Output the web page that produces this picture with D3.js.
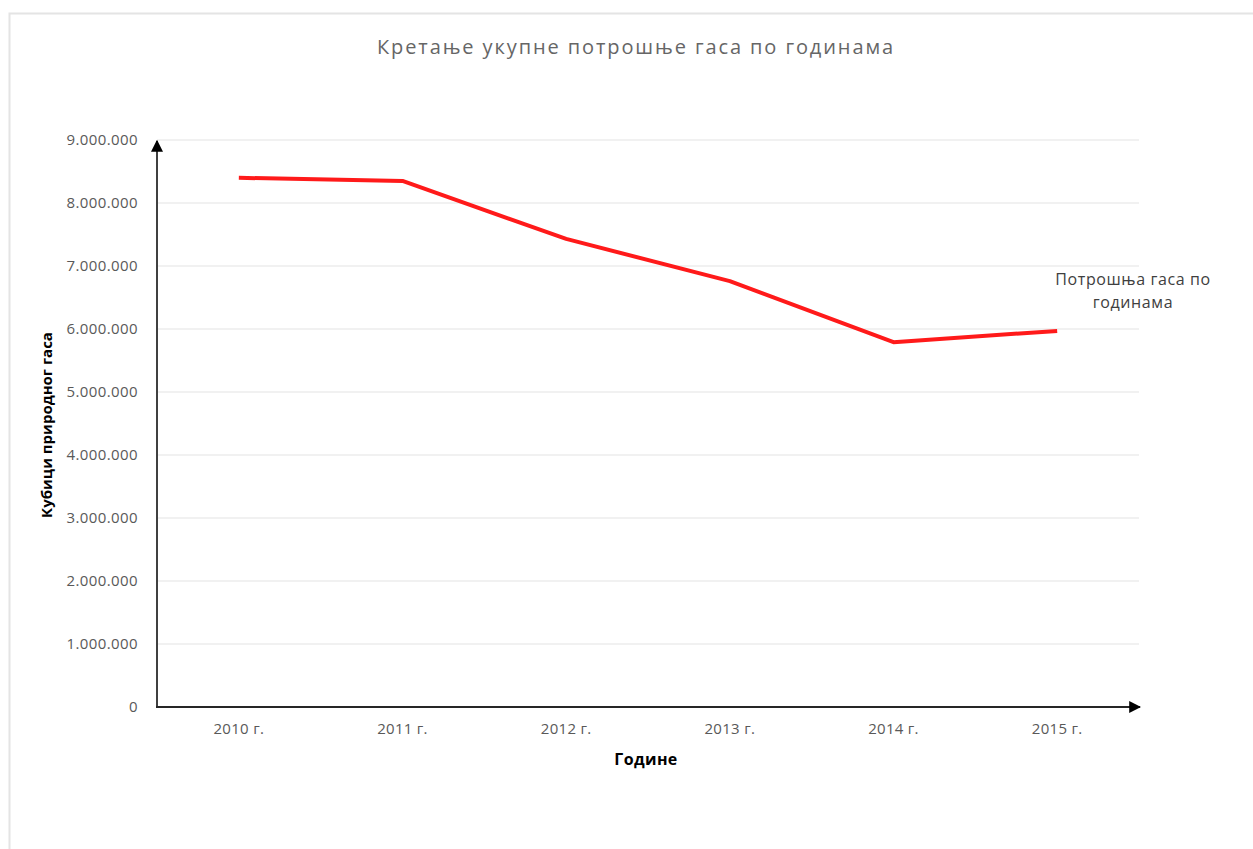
<!DOCTYPE html>
<html>
<head>
<meta charset="utf-8">
<script src="https://cdn.jsdelivr.net/npm/d3@7"></script>
<style>
  body { margin: 0; background: #fff; }
  text { font-family: "Open Sans", sans-serif; }
</style>
</head>
<body>
<div id="chart"></div>
<script>
WIDTH = 1253;
HEIGHT = 849;

// Data
var years = ["2010 г.", "2011 г.", "2012 г.", "2013 г.", "2014 г.", "2015 г."];
var consumption = [8400000, 8350000, 7430000, 6760000, 5790000, 5970000];
var yTicks = [0, 1000000, 2000000, 3000000, 4000000, 5000000, 6000000, 7000000, 8000000, 9000000];
var seriesName = ["Потрошња гаса по", "годинама"];

var margin = { top: 140, right: 114, bottom: 142, left: 157 };

var svg = d3
  .select("#chart")
  .append("svg")
  .attr("width", WIDTH)
  .attr("height", HEIGHT);

// outer frame
svg.append("rect")
  .attr("x", 9.5)
  .attr("y", 13.5)
  .attr("width", WIDTH + 20)
  .attr("height", HEIGHT + 20)
  .style("fill", "none")
  .style("stroke", "#e4e4e4")
  .style("stroke-width", 2);

var defs = svg.append("defs");
defs.append("marker")
  .attr("id", "arrow")
  .attr("viewBox", "0 0 10 10")
  .attr("refX", 9)
  .attr("refY", 5)
  .attr("markerWidth", 6)
  .attr("markerHeight", 6)
  .attr("markerUnits", "strokeWidth")
  .attr("orient", "auto")
  .append("path")
  .attr("d", "M0,0 L10,5 L0,10 z")
  .style("fill", "#000");

const xScale = d3
  .scaleBand()
  .domain(years)
  .range([margin.left, WIDTH - margin.right]);

const yScale = d3
  .scaleLinear()
  .domain([0, 9000000])
  .range([HEIGHT - margin.bottom, margin.top]);

var fmt = function(v) {
  return d3.format(",")(v).replace(/,/g, ".");
};

// gridlines
svg.append("g")
  .selectAll("line")
  .data(yTicks.slice(1))
  .enter()
  .append("line")
  .attr("x1", margin.left)
  .attr("x2", WIDTH - margin.right)
  .attr("y1", d => yScale(d))
  .attr("y2", d => yScale(d))
  .style("stroke", "#e3e3e3")
  .style("stroke-width", 1);

// y tick labels
var yAxis = d3.axisLeft(yScale)
  .tickValues(yTicks)
  .tickFormat(fmt)
  .tickSize(0)
  .tickPadding(19);
var yg = svg.append("g")
  .attr("transform", "translate(" + margin.left + ",0)")
  .call(yAxis);
yg.select(".domain").remove();
yg.selectAll("text")
  .style("font-size", "15px")
  .style("letter-spacing", "0.4px")
  .style("fill", "#595959")
  .style("font-family", "'Open Sans', sans-serif");

// x tick labels
var xAxis = d3.axisBottom(xScale).tickSize(0).tickPadding(16);
var xg = svg.append("g")
  .attr("transform", "translate(0," + (HEIGHT - margin.bottom) + ")")
  .call(xAxis);
xg.select(".domain").remove();
xg.selectAll("text")
  .style("font-size", "15px")
  .style("letter-spacing", "0.3px")
  .style("fill", "#595959")
  .style("font-family", "'Open Sans', sans-serif");

// axes with arrows
svg.append("line")
  .attr("x1", margin.left)
  .attr("x2", margin.left)
  .attr("y1", yScale(0))
  .attr("y2", yScale(9000000) + 1)
  .style("stroke", "#404040")
  .style("stroke-width", 2)
  .attr("marker-end", "url(#arrow)");

svg.append("line")
  .attr("x1", margin.left - 1)
  .attr("x2", WIDTH - margin.right + 1)
  .attr("y1", yScale(0))
  .attr("y2", yScale(0))
  .style("stroke", "#262626")
  .style("stroke-width", 2)
  .attr("marker-end", "url(#arrow)");

// series line
var line = d3
  .line()
  .x((d, i) => xScale(years[i]) + xScale.bandwidth() / 2)
  .y(d => yScale(d));

svg.append("path")
  .datum(consumption)
  .attr("d", line)
  .style("fill", "none")
  .style("stroke", "#ff1a1a")
  .style("stroke-width", 4)
  .style("stroke-linejoin", "round");

// series label
var lbl = svg.append("text")
  .attr("x", 1133)
  .attr("y", 285)
  .attr("text-anchor", "middle")
  .style("font-size", "16px")
  .style("letter-spacing", "0.6px")
  .style("fill", "#404040");
lbl.selectAll("tspan")
  .data(seriesName)
  .enter()
  .append("tspan")
  .attr("x", 1133)
  .attr("dy", (d, i) => (i == 0 ? 0 : 23))
  .text(d => d);

// title
svg.append("text")
  .attr("x", 636)
  .attr("y", 54)
  .attr("text-anchor", "middle")
  .style("font-size", "20px")
  .style("letter-spacing", "1.9px")
  .style("fill", "#666")
  .text("Кретање укупне потрошње гаса по годинама");

// axis titles
svg.append("text")
  .attr("transform", "translate(52,425) rotate(-90)")
  .attr("text-anchor", "middle")
  .style("font-size", "15px")
  .style("font-weight", "bold")
  .style("fill", "#000")
  .text("Кубици природног гаса");

svg.append("text")
  .attr("x", 646)
  .attr("y", 765)
  .attr("text-anchor", "middle")
  .style("font-size", "16px")
  .style("font-weight", "bold")
  .style("letter-spacing", "0.4px")
  .style("fill", "#000")
  .text("Године");
</script>
</body>
</html>
